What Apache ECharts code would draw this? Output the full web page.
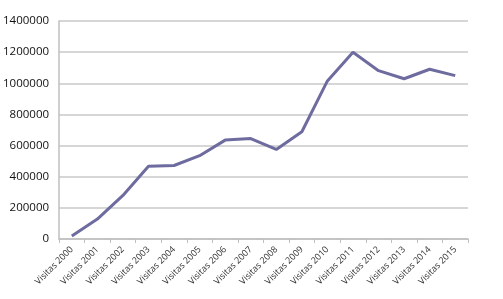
<!DOCTYPE html>
<html><head><meta charset="utf-8">
<script src="https://cdn.jsdelivr.net/npm/echarts@6/dist/echarts.min.js"></script>
<style>html,body{margin:0;padding:0;background:#fff}#c{width:503px;height:299px}</style>
</head><body><div id="c"></div>
<script>
const categories = ['Visitas 2000','Visitas 2001','Visitas 2002','Visitas 2003','Visitas 2004','Visitas 2005','Visitas 2006','Visitas 2007','Visitas 2008','Visitas 2009','Visitas 2010','Visitas 2011','Visitas 2012','Visitas 2013','Visitas 2014','Visitas 2015'];
const visits = [20000,128000,280000,467000,472000,535000,635000,645000,575000,689000,1015000,1199000,1081000,1029000,1090000,1049000];
const yMin = 0, yMax = 1400000, yStep = 200000;

const chart = echarts.init(document.getElementById('c'), null, {renderer:'canvas'});
chart.setOption({
  animation:false,
  backgroundColor:'#ffffff',
  grid:{left:58,right:35,top:21,bottom:60,containLabel:false},
  xAxis:{type:'category',data:categories,boundaryGap:true,
    axisLine:{lineStyle:{color:'#bfbfbf',width:1.5}},
    axisTick:{show:true,length:4,lineStyle:{color:'#bfbfbf'}},
    axisLabel:{rotate:45,fontSize:9,color:'#333',fontFamily:'Open Sans',margin:9,interval:0}},
  yAxis:{type:'value',min:yMin,max:yMax,interval:yStep,
    axisLine:{show:true,lineStyle:{color:'#bfbfbf',width:1.5}},
    axisTick:{show:false},
    splitLine:{lineStyle:{color:'#c8c8c8',width:1.5}},
    axisLabel:{fontSize:11.5,color:'#111',fontFamily:'Open Sans',margin:10,formatter:v=>String(v)}},
  series:[{type:'line',data:visits,symbol:'none',lineStyle:{color:'#6e6c9f',width:3}}]
});
</script></body></html>
